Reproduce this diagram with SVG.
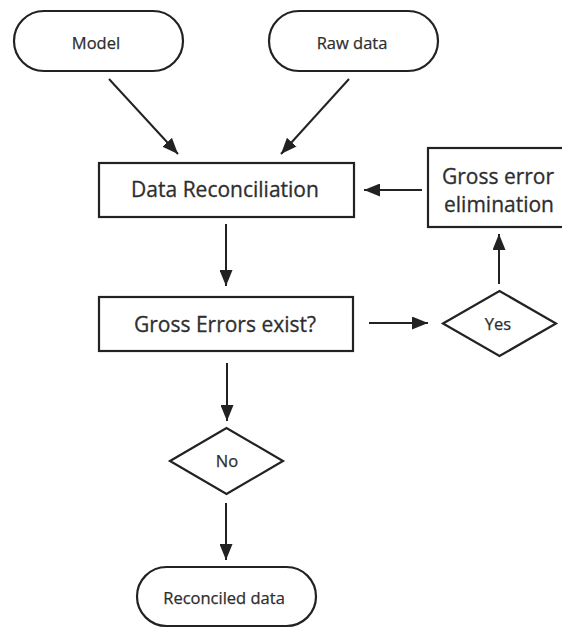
<svg xmlns="http://www.w3.org/2000/svg" width="562" height="628" viewBox="0 0 562 628">
  <style>
    .shape { fill: #ffffff; stroke: #222222; stroke-width: 2.2; }
    .edge { fill: none; stroke: #222222; stroke-width: 2; }
    .big { font-family: "Open Sans", "Noto Sans", sans-serif; font-size: 21px; fill: #2e2e2e; stroke: #2e2e2e; stroke-width: 0.3; text-anchor: middle; }
    .small { font-family: "Open Sans", "Noto Sans", sans-serif; font-size: 16.5px; fill: #2e2e2e; stroke: #2e2e2e; stroke-width: 0.25; text-anchor: middle; }
  </style>
  <defs>
    <marker id="arrow" markerUnits="userSpaceOnUse" markerWidth="17" markerHeight="13" refX="16" refY="6.5" orient="auto">
      <path d="M0,0 L16,6.5 L0,13 Z" fill="#222222"/>
    </marker>
  </defs>
  <rect width="562" height="628" fill="#ffffff"/>

  <g id="model">
    <rect class="shape" x="14" y="11" width="169" height="60" rx="30" ry="30"/>
    <text class="small" x="96" y="49">Model</text>
  </g>
  <g id="raw-data">
    <rect class="shape" x="269" y="11" width="169" height="60" rx="30" ry="30"/>
    <text class="small" x="352" y="49">Raw data</text>
  </g>
  <g id="data-reconciliation">
    <rect class="shape" x="99" y="163" width="255" height="54"/>
    <text class="big" x="225" y="197">Data Reconciliation</text>
  </g>
  <g id="gross-error-elimination">
    <rect class="shape" x="428" y="148" width="140" height="79"/>
    <text class="big" x="498" y="184">Gross error</text>
    <text class="big" x="499" y="212">elimination</text>
  </g>
  <g id="gross-errors-exist">
    <rect class="shape" x="99" y="297" width="254" height="54"/>
    <text class="big" x="225" y="332">Gross Errors exist?</text>
  </g>
  <g id="yes">
    <polygon class="shape" points="443,323.5 499.5,291 556,323.5 499.5,356"/>
    <text class="small" x="498" y="330">Yes</text>
  </g>
  <g id="no">
    <polygon class="shape" points="170,461 226.5,428 283,461 226.5,494"/>
    <text class="small" x="227" y="467">No</text>
  </g>
  <g id="reconciled-data">
    <rect class="shape" x="137" y="567" width="179" height="59" rx="29.5" ry="29.5"/>
    <text class="small" x="224" y="604">Reconciled data</text>
  </g>

  <g id="connectors">
    <line class="edge" x1="109" y1="79" x2="178" y2="154" marker-end="url(#arrow)"/>
    <line class="edge" x1="349" y1="79" x2="281" y2="154" marker-end="url(#arrow)"/>
    <line class="edge" x1="422" y1="190" x2="364" y2="190" marker-end="url(#arrow)"/>
    <line class="edge" x1="226" y1="224" x2="226" y2="286" marker-end="url(#arrow)"/>
    <line class="edge" x1="369" y1="323" x2="428" y2="323" marker-end="url(#arrow)"/>
    <line class="edge" x1="499" y1="284" x2="499" y2="234" marker-end="url(#arrow)"/>
    <line class="edge" x1="227" y1="363" x2="227" y2="421" marker-end="url(#arrow)"/>
    <line class="edge" x1="226" y1="503" x2="226" y2="560" marker-end="url(#arrow)"/>
  </g>
</svg>
